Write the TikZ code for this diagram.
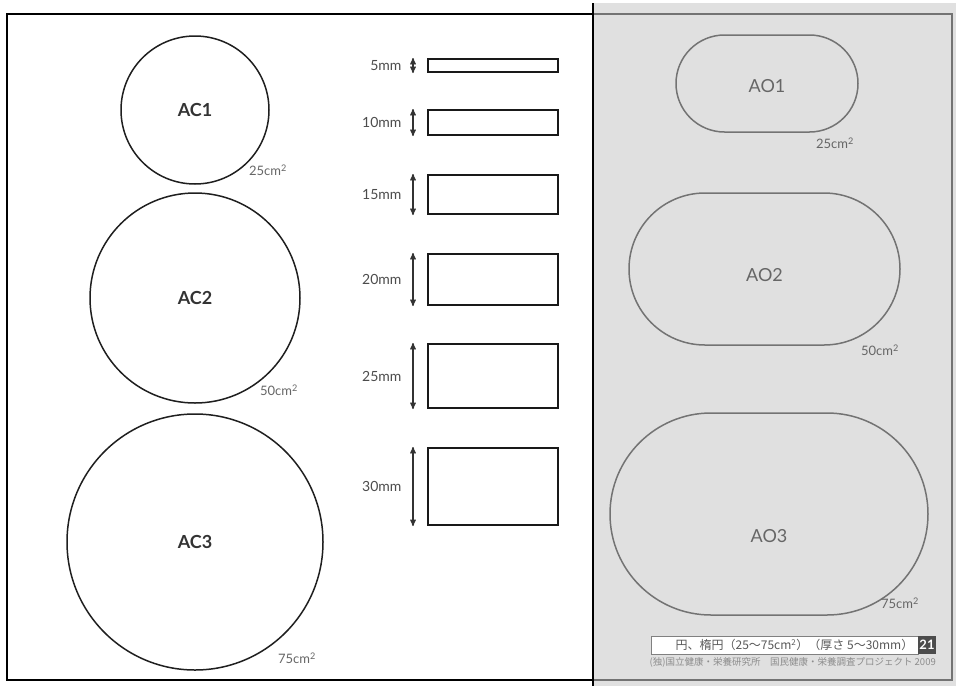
\documentclass[tikz,border=0pt]{standalone}
\usepackage{fontspec}
\setmainfont{Lato}
\newfontfamily\jpfont{Noto Sans CJK JP}
\usetikzlibrary{arrows,positioning}

\begin{document}
\begin{tikzpicture}[x=1pt,y=-1pt,>=stealth',font=\fontsize{14}{16}\selectfont]
        \tikzstyle{disc}=[circle,draw=black!88,line width=1.5pt,inner sep=0pt,text=black!80,font=\fontsize{18}{20}\selectfont\bfseries]
        \tikzstyle{oval}=[rectangle,draw=black!55,line width=1.5pt,inner sep=0pt]
        \tikzstyle{ovalname}=[text=black!60,font=\fontsize{18}{20}\selectfont]
        \tikzstyle{slab}=[rectangle,draw=black!90,line width=2pt,inner sep=0pt,minimum width=130pt,anchor=north west]
        \tikzstyle{area}=[text=black!60,font=\fontsize{13}{15}\selectfont]
        \tikzstyle{thick}=[text=black!70,anchor=east]
        \tikzstyle{span}=[<->,line width=1.3pt,black!80]

        \useasboundingbox (0,0) rectangle (956,686);

        % right panel
        \fill[black!12] (593,3) rectangle (956,686);
        \draw[black!55,line width=1.5pt] (593,14) -- (952,14) -- (952,680) -- (593,680);
        \draw[black,line width=1.8pt] (593,3) -- (593,686);
        \draw[black,line width=1.8pt] (593,14) -- (7,14) -- (7,680) -- (593,680);

        % circles
        \node [disc, minimum size=148pt] (ac1) at (195,110) {AC1};
        \node [area] (a1) at (268,170) {25cm\textsuperscript{2}};
        \node [disc, minimum size=210pt] (ac2) at (195,298) {AC2};
        \node [area] (a2) at (279,390) {50cm\textsuperscript{2}};
        \node [disc, minimum size=256pt] (ac3) at (195,542) {AC3};
        \node [area] (a3) at (297,658) {75cm\textsuperscript{2}};

        % thickness bars
        \node [slab, minimum height=13pt] (r5)  at (427,58)  {};
        \node [slab, minimum height=25pt] (r10) at (427,109) {};
        \node [slab, minimum height=39pt] (r15) at (427,174) {};
        \node [slab, minimum height=51pt] (r20) at (427,253) {};
        \node [slab, minimum height=64pt] (r25) at (427,343) {};
        \node [slab, minimum height=77pt] (r30) at (427,447) {};
        \foreach \r/\t in {r5/5mm,r10/10mm,r15/15mm,r20/20mm,r25/25mm,r30/30mm}{
            \draw [span] ([xshift=-14pt]\r.north west) -- ([xshift=-14pt]\r.south west);
            \node [thick] (l\r) at ([xshift=-22pt]\r.west) {\t};
        }

        % ovals
        \node [oval, minimum width=182pt, minimum height=97pt, rounded corners=48.5pt] (ao1) at (767,83.5) {};
        \node [ovalname] (n1) at ([yshift=-3pt]ao1.center) {AO1};
        \node [area] (b1) at (835,143) {25cm\textsuperscript{2}};
        \node [oval, minimum width=271pt, minimum height=152pt, rounded corners=76pt] (ao2) at (764.5,269) {};
        \node [ovalname] (n2) at ([yshift=-6pt]ao2.center) {AO2};
        \node [area] (b2) at (880,350) {50cm\textsuperscript{2}};
        \node [oval, minimum width=318pt, minimum height=202pt, rounded corners=101pt] (ao3) at (769,514) {};
        \node [ovalname] (n3) at ([yshift=-22pt]ao3.center) {AO3};
        \node [area] (b3) at (900,603) {75cm\textsuperscript{2}};

        % footer
        \node [rectangle,draw=black!50,fill=white,line width=1pt,minimum width=267pt,minimum height=18pt,inner sep=0pt] (cap) at (784.5,645) {};
        \node [anchor=east,text=black!65,font=\jpfont\fontsize{12}{14}\selectfont,inner sep=0pt] (capt) at ([xshift=-5pt]cap.east) {円、楕円（25～75cm\textsuperscript{2}）（厚さ 5～30mm）};
        \node [rectangle,fill=black!70,text=white,minimum width=18pt,minimum height=18pt,inner sep=0pt,font=\fontsize{13}{14}\selectfont\bfseries] (pg) at (927,645) {21};
        \node [anchor=north east,text=black!45,font=\jpfont\fontsize{9.5}{11}\selectfont,inner sep=0pt] (src) at (936,657) {(独)国立健康・栄養研究所\quad 国民健康・栄養調査プロジェクト 2009};
\end{tikzpicture}
\end{document}
